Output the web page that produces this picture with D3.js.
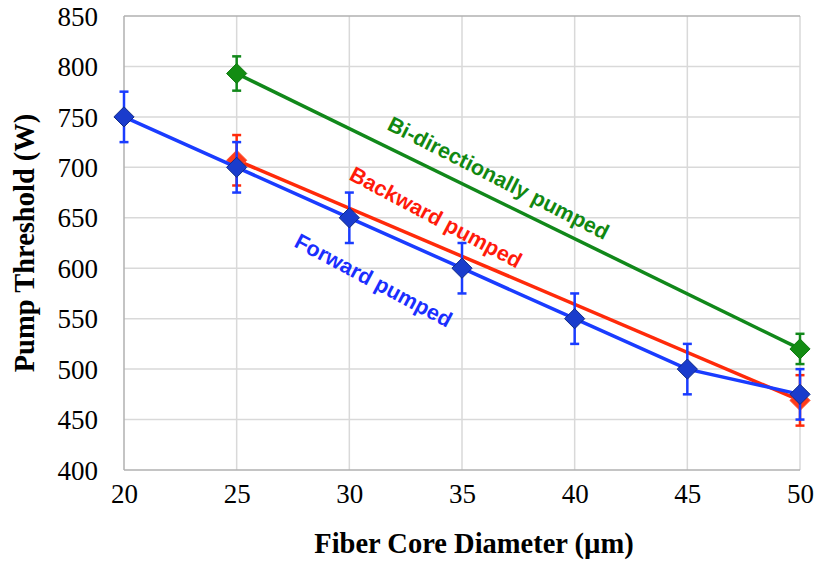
<!DOCTYPE html>
<html>
<head>
<meta charset="utf-8">
<script src="https://cdn.jsdelivr.net/npm/d3@7"></script>
<style>
  body { margin: 0; background: #fff; }
  svg { display: block; }
  .tick text { font-family: 'Liberation Serif', 'Times New Roman', serif; font-size: 27px; }
</style>
</head>
<body>
<div id="chart"></div>
<script>
// data
const diameters = [20, 25, 30, 35, 40, 45, 50];
const forwardVals = [750, 700, 650, 600, 550, 500, 475];
const forwardErr = [25, 25, 25, 25, 25, 25, 25];
const backwardX = [25, 50];
const backwardVals = [707, 469];
const backwardErr = [25, 25];
const biX = [25, 50];
const biVals = [793, 520];
const biErr = [17, 15];
const yTicks = [400, 450, 500, 550, 600, 650, 700, 750, 800, 850];

const series = [
    {name: "Bi-directionally pumped", x: biX, y: biVals, err: biErr, color: "#11881a", marker: "#138c13", edge: "#0e7a0e"},
    {name: "Backward pumped", x: backwardX, y: backwardVals, err: backwardErr, color: "#ff2a0a", marker: "#ff3b1a", edge: "#ff5533"},
    {name: "Forward pumped", x: diameters, y: forwardVals, err: forwardErr, color: "#1a3cff", marker: "#1a3ccc", edge: "#102a8a"}
];

const W = 822, H = 561;
const margin = {top: 16, right: 22, bottom: 91, left: 124};
const width = W - margin.left - margin.right;
const height = H - margin.top - margin.bottom;

const svg = d3.select("#chart").append("svg")
    .attr("width", W)
    .attr("height", H);

const g = svg.append("g")
    .attr("transform", "translate(" + margin.left + "," + margin.top + ")");

const x = d3.scaleLinear().domain([20, 50]).range([0, width]);
const y = d3.scaleLinear().domain([400, 850]).range([height, 0]);

// grid
g.append("g").selectAll("line")
    .data(yTicks.slice(1, -1))
    .enter().append("line")
    .attr("x1", 0).attr("x2", width)
    .attr("y1", d => y(d)).attr("y2", d => y(d))
    .attr("stroke", "#d9d9d9").attr("stroke-width", 1.5);

g.append("g").selectAll("line")
    .data(diameters.slice(1))
    .enter().append("line")
    .attr("x1", d => x(d)).attr("x2", d => x(d))
    .attr("y1", 0).attr("y2", height)
    .attr("stroke", "#d9d9d9").attr("stroke-width", 1.5);

// frame lines (top, left, bottom)
g.append("line").attr("x1", 0).attr("x2", width).attr("y1", 0).attr("y2", 0)
    .attr("stroke", "#b0b0b0").attr("stroke-width", 1.5);
g.append("line").attr("x1", 0).attr("x2", 0).attr("y1", 0).attr("y2", height)
    .attr("stroke", "#b0b0b0").attr("stroke-width", 1.5);
g.append("line").attr("x1", 0).attr("x2", width).attr("y1", height).attr("y2", height)
    .attr("stroke", "#b0b0b0").attr("stroke-width", 1.5);

// axes
const yAxis = d3.axisLeft(y).tickValues(yTicks).tickSize(0).tickPadding(26);
const xAxis = d3.axisBottom(x).tickValues(diameters).tickSize(0).tickPadding(14);

const ya = g.append("g").call(yAxis);
const xa = g.append("g").attr("transform", "translate(0," + height + ")").call(xAxis);
[ya, xa].forEach(a => {
    a.attr("font-family", "'Liberation Serif', 'Times New Roman', serif")
        .attr("font-size", 27);
    a.select(".domain").remove();
    a.selectAll("text").attr("fill", "#000");
});
xa.selectAll("text").attr("dy", "0.71em");
ya.selectAll("text").attr("dy", "0.34em");

// axis titles
svg.append("text")
    .attr("x", 474)
    .attr("y", 553)
    .attr("text-anchor", "middle")
    .style("font-family", "'Liberation Serif', 'Times New Roman', serif")
    .style("font-weight", "bold")
    .style("font-size", "28.5px")
    .text("Fiber Core Diameter (µm)");

svg.append("text")
    .attr("transform", "translate(34," + (margin.top + height / 2) + ") rotate(-90)")
    .attr("text-anchor", "middle")
    .style("font-family", "'Liberation Serif', 'Times New Roman', serif")
    .style("font-weight", "bold")
    .style("font-size", "28.5px")
    .text("Pump Threshold (W)");

// series
const line = d3.line().x(d => x(d[0])).y(d => y(d[1]));
const diamond = d3.symbol().type(d3.symbolDiamond2).size(260);

series.forEach(s => {
    const pts = s.x.map((xv, i) => [xv, s.y[i], s.err[i]]);
    const sg = g.append("g");

    sg.append("path")
        .datum(pts)
        .attr("d", line)
        .attr("fill", "none")
        .attr("stroke", s.color)
        .attr("stroke-width", 3.5);

    // error bars
    const eb = sg.selectAll(".err").data(pts).enter().append("g");
    eb.append("line")
        .attr("x1", d => x(d[0])).attr("x2", d => x(d[0]))
        .attr("y1", d => y(d[1] + d[2])).attr("y2", d => y(d[1] - d[2]))
        .attr("stroke", s.color).attr("stroke-width", 2.5);
    [1, -1].forEach(sign => {
        eb.append("line")
            .attr("x1", d => x(d[0]) - 4.5).attr("x2", d => x(d[0]) + 4.5)
            .attr("y1", d => y(d[1] + sign * d[2])).attr("y2", d => y(d[1] + sign * d[2]))
            .attr("stroke", s.color).attr("stroke-width", 2.5);
    });

    sg.selectAll(".mk").data(pts).enter().append("path")
        .attr("d", diamond)
        .attr("transform", d => "translate(" + x(d[0]) + "," + y(d[1]) + ")")
        .attr("fill", s.marker)
        .attr("stroke", s.edge)
        .attr("stroke-width", 1);
});

// inline series labels
const labels = [
    {text: "Bi-directionally pumped", color: "#118811", px: 386, py: 129, angle: 27},
    {text: "Backward pumped", color: "#ff1a0a", px: 348, py: 179, angle: 28},
    {text: "Forward pumped", color: "#1a2eff", px: 293, py: 246, angle: 28}
];
svg.selectAll(".lbl").data(labels).enter().append("text")
    .attr("transform", d => "translate(" + d.px + "," + d.py + ") rotate(" + d.angle + ")")
    .attr("fill", d => d.color)
    .style("font-family", "'Liberation Sans', Arial, sans-serif")
    .style("font-weight", "bold")
    .style("font-size", "21.5px")
    .text(d => d.text);
</script>
</body>
</html>
